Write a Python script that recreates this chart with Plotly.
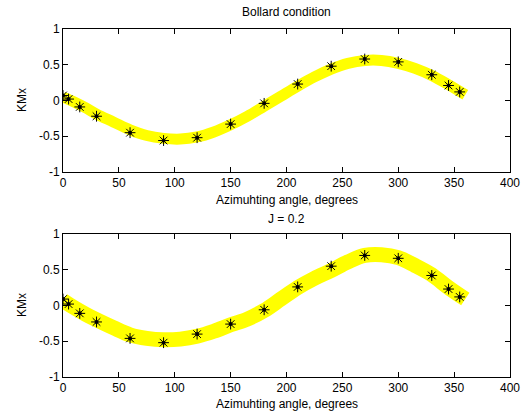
import plotly.graph_objects as go

# ---- data ----
marker_angles = [0, 5, 15, 30, 60, 90, 120, 150, 180, 210, 240, 270, 300, 330, 345, 355]
kmx_bollard = [0.07, 0.02, -0.09, -0.22, -0.45, -0.56, -0.52, -0.33, -0.04, 0.23, 0.48, 0.58, 0.54, 0.36, 0.21, 0.12]
kmx_j02 = [0.09, 0.02, -0.11, -0.23, -0.46, -0.52, -0.40, -0.26, -0.06, 0.26, 0.55, 0.70, 0.66, 0.42, 0.23, 0.12]

band_angles = [0, 10, 20, 30, 45, 60, 75, 90, 105, 120, 135, 150, 165, 180, 195, 210, 225, 240, 255, 270, 285, 300, 315, 330, 345, 360]
band_bollard = [0.05, -0.02, -0.1, -0.19, -0.3, -0.41, -0.49, -0.53, -0.54, -0.51, -0.44, -0.34, -0.22, -0.08, 0.06, 0.2, 0.33, 0.44, 0.52, 0.56, 0.56, 0.52, 0.45, 0.35, 0.22, 0.08]
band_j02 = [0.07, -0.03, -0.12, -0.2, -0.31, -0.41, -0.46, -0.48, -0.47, -0.43, -0.36, -0.27, -0.19, -0.07, 0.09, 0.25, 0.38, 0.49, 0.61, 0.70, 0.71, 0.67, 0.56, 0.43, 0.25, 0.09]

titles = ["Bollard condition", "J = 0.2"]
x_title = "Azimuhting angle, degrees"
y_title = "KMx"
x_ticks = [0, 50, 100, 150, 200, 250, 300, 350, 400]
y_ticks = [-1, -0.5, 0, 0.5, 1]
y_ticktext = ["-1", "-0.5", "0", "0.5", "1"]

W, H = 526, 417
L, R, T, B = 63, 510, 29, 377   # plot-area pixel box
PW, PH = R - L, B - T
FONT = "Liberation Sans, Arial, sans-serif"


def px(xp):
    return (xp - L) / PW


def py(yp):
    return (B - yp) / PH


fig = go.Figure()

bands = [(band_bollard, 11), (band_j02, 15)]
markers = [kmx_bollard, kmx_j02]
for i in range(2):
    xa = "x" if i == 0 else "x2"
    ya = "y" if i == 0 else "y2"
    band, lw = bands[i]
    fig.add_trace(go.Scatter(x=band_angles, y=band, mode="lines",
                             line=dict(color="#ffff00", width=lw, shape="spline"),
                             xaxis=xa, yaxis=ya, showlegend=False, hoverinfo="skip"))
    fig.add_trace(go.Scatter(x=marker_angles, y=markers[i], mode="markers",
                             marker=dict(symbol="asterisk-open", size=9, color="black",
                                         line=dict(color="black", width=1)),
                             xaxis=xa, yaxis=ya, showlegend=False))
    fig.add_trace(go.Scatter(x=marker_angles, y=markers[i], mode="markers",
                             marker=dict(symbol="circle", size=4, color="black"),
                             xaxis=xa, yaxis=ya, showlegend=False))

doms = [(py(172), 1.0), (0.0, py(234))]

axis_common = dict(showline=True, linecolor="black", linewidth=1, mirror="ticks",
                   ticks="inside", ticklen=5, tickcolor="black", showgrid=False,
                   zeroline=False, automargin=False,
                   tickfont=dict(family=FONT, size=12, color="black"))

layout = dict(
    width=W, height=H, margin=dict(l=L, r=W - R, t=T, b=H - B, autoexpand=False),
    paper_bgcolor="white", plot_bgcolor="white", showlegend=False,
    font=dict(family=FONT, size=12, color="black"),
)
for i in range(2):
    sx = "" if i == 0 else "2"
    layout["xaxis" + sx] = dict(axis_common, domain=[0, 1], range=[0, 400],
                                tickvals=x_ticks, anchor="y" + sx)
    layout["yaxis" + sx] = dict(axis_common, domain=list(doms[i]), range=[-1, 1],
                                tickvals=y_ticks, ticktext=y_ticktext, anchor="x" + sx)
fig.update_layout(**layout)

cx = px((L + R) / 2)
anns = []
title_y = [12, 219]
xlab_y = [200, 404]
ylab_y = [100, 305]
for i in range(2):
    anns.append(dict(text=titles[i], x=cx, y=py(title_y[i]), xref="paper", yref="paper",
                     showarrow=False, xanchor="center", yanchor="middle",
                     font=dict(family=FONT, size=12, color="black")))
    anns.append(dict(text=x_title, x=cx, y=py(xlab_y[i]), xref="paper", yref="paper",
                     showarrow=False, xanchor="center", yanchor="middle",
                     font=dict(family=FONT, size=12, color="black")))
    anns.append(dict(text=y_title, x=px(22), y=py(ylab_y[i]), xref="paper", yref="paper",
                     showarrow=False, xanchor="center", yanchor="middle", textangle=-90,
                     font=dict(family=FONT, size=12, color="black")))
fig.update_layout(annotations=anns)

fig.write_html("out.html")
